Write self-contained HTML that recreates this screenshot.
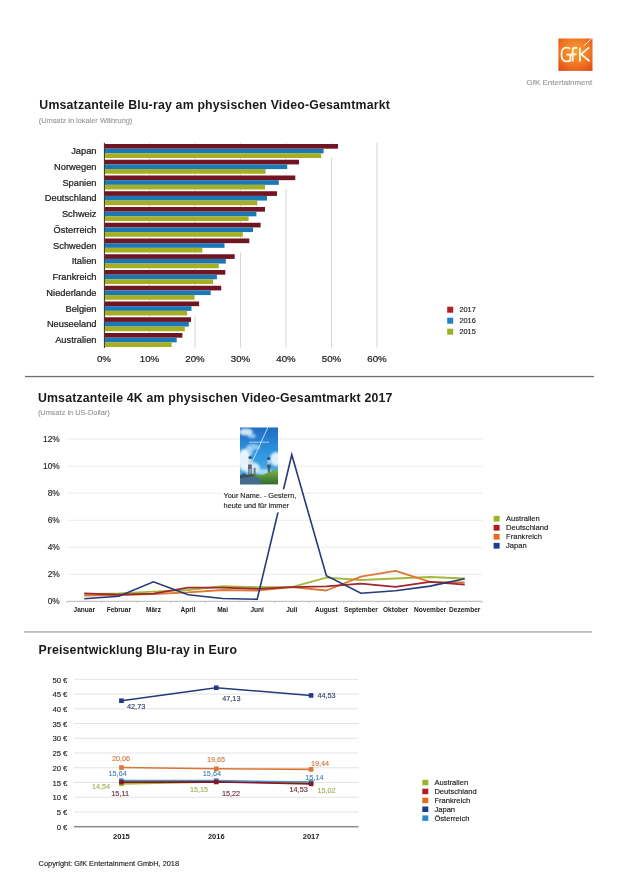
<!DOCTYPE html>
<html><head><meta charset="utf-8"><style>
html,body{margin:0;padding:0;background:#fff;width:630px;height:891px;overflow:hidden;}
svg{display:block;font-family:"Liberation Sans", sans-serif;will-change:transform;}
</style></head><body>
<svg width="630" height="891" viewBox="0 0 630 891">
<rect x="149.00" y="143" width="1" height="204.5" fill="#d4d4d4"/>
<rect x="194.50" y="143" width="1" height="204.5" fill="#d4d4d4"/>
<rect x="240.00" y="143" width="1" height="204.5" fill="#d4d4d4"/>
<rect x="285.50" y="143" width="1" height="204.5" fill="#d4d4d4"/>
<rect x="331.00" y="143" width="1" height="204.5" fill="#d4d4d4"/>
<rect x="376.50" y="143" width="1" height="204.5" fill="#d4d4d4"/>
<rect x="104.0" y="144.00" width="234.00" height="14" fill="#fff"/>
<rect x="104.4" y="144.00" width="233.60" height="4.67" fill="#701521"/>
<rect x="104.4" y="148.67" width="219.20" height="4.67" fill="#1b78b6"/>
<rect x="104.4" y="153.33" width="216.80" height="4.67" fill="#a6ae22"/>
<text stroke="#1a1a1a" stroke-width="0.22" x="96.5" y="154.00" text-anchor="end" font-size="9.3" fill="#1a1a1a">Japan</text>
<rect x="104.0" y="159.75" width="195.00" height="14" fill="#fff"/>
<rect x="104.4" y="159.75" width="194.60" height="4.67" fill="#701521"/>
<rect x="104.4" y="164.42" width="182.80" height="4.67" fill="#1b78b6"/>
<rect x="104.4" y="169.08" width="161.20" height="4.67" fill="#a6ae22"/>
<text stroke="#1a1a1a" stroke-width="0.22" x="96.5" y="169.75" text-anchor="end" font-size="9.3" fill="#1a1a1a">Norwegen</text>
<rect x="104.0" y="175.50" width="191.30" height="14" fill="#fff"/>
<rect x="104.4" y="175.50" width="190.90" height="4.67" fill="#701521"/>
<rect x="104.4" y="180.17" width="174.40" height="4.67" fill="#1b78b6"/>
<rect x="104.4" y="184.83" width="160.60" height="4.67" fill="#a6ae22"/>
<text stroke="#1a1a1a" stroke-width="0.22" x="96.5" y="185.50" text-anchor="end" font-size="9.3" fill="#1a1a1a">Spanien</text>
<rect x="104.0" y="191.25" width="173.00" height="14" fill="#fff"/>
<rect x="104.4" y="191.25" width="172.60" height="4.67" fill="#701521"/>
<rect x="104.4" y="195.92" width="162.60" height="4.67" fill="#1b78b6"/>
<rect x="104.4" y="200.58" width="152.90" height="4.67" fill="#a6ae22"/>
<text stroke="#1a1a1a" stroke-width="0.22" x="96.5" y="201.25" text-anchor="end" font-size="9.3" fill="#1a1a1a">Deutschland</text>
<rect x="104.0" y="207.00" width="161.00" height="14" fill="#fff"/>
<rect x="104.4" y="207.00" width="160.60" height="4.67" fill="#701521"/>
<rect x="104.4" y="211.67" width="152.00" height="4.67" fill="#1b78b6"/>
<rect x="104.4" y="216.33" width="144.20" height="4.67" fill="#a6ae22"/>
<text stroke="#1a1a1a" stroke-width="0.22" x="96.5" y="217.00" text-anchor="end" font-size="9.3" fill="#1a1a1a">Schweiz</text>
<rect x="104.0" y="222.75" width="156.60" height="14" fill="#fff"/>
<rect x="104.4" y="222.75" width="156.20" height="4.67" fill="#701521"/>
<rect x="104.4" y="227.42" width="148.60" height="4.67" fill="#1b78b6"/>
<rect x="104.4" y="232.08" width="138.40" height="4.67" fill="#a6ae22"/>
<text stroke="#1a1a1a" stroke-width="0.22" x="96.5" y="232.75" text-anchor="end" font-size="9.3" fill="#1a1a1a">Österreich</text>
<rect x="104.0" y="238.50" width="145.30" height="14" fill="#fff"/>
<rect x="104.4" y="238.50" width="144.90" height="4.67" fill="#701521"/>
<rect x="104.4" y="243.17" width="120.10" height="4.67" fill="#1b78b6"/>
<rect x="104.4" y="247.83" width="97.90" height="4.67" fill="#a6ae22"/>
<text stroke="#1a1a1a" stroke-width="0.22" x="96.5" y="248.50" text-anchor="end" font-size="9.3" fill="#1a1a1a">Schweden</text>
<rect x="104.0" y="254.25" width="130.70" height="14" fill="#fff"/>
<rect x="104.4" y="254.25" width="130.30" height="4.67" fill="#701521"/>
<rect x="104.4" y="258.92" width="121.40" height="4.67" fill="#1b78b6"/>
<rect x="104.4" y="263.58" width="114.40" height="4.67" fill="#a6ae22"/>
<text stroke="#1a1a1a" stroke-width="0.22" x="96.5" y="264.25" text-anchor="end" font-size="9.3" fill="#1a1a1a">Italien</text>
<rect x="104.0" y="270.00" width="121.30" height="14" fill="#fff"/>
<rect x="104.4" y="270.00" width="120.90" height="4.67" fill="#701521"/>
<rect x="104.4" y="274.67" width="112.50" height="4.67" fill="#1b78b6"/>
<rect x="104.4" y="279.33" width="108.70" height="4.67" fill="#a6ae22"/>
<text stroke="#1a1a1a" stroke-width="0.22" x="96.5" y="280.00" text-anchor="end" font-size="9.3" fill="#1a1a1a">Frankreich</text>
<rect x="104.0" y="285.75" width="117.20" height="14" fill="#fff"/>
<rect x="104.4" y="285.75" width="116.80" height="4.67" fill="#701521"/>
<rect x="104.4" y="290.42" width="106.30" height="4.67" fill="#1b78b6"/>
<rect x="104.4" y="295.08" width="90.10" height="4.67" fill="#a6ae22"/>
<text stroke="#1a1a1a" stroke-width="0.22" x="96.5" y="295.75" text-anchor="end" font-size="9.3" fill="#1a1a1a">Niederlande</text>
<rect x="104.0" y="301.50" width="95.10" height="14" fill="#fff"/>
<rect x="104.4" y="301.50" width="94.70" height="4.67" fill="#701521"/>
<rect x="104.4" y="306.17" width="87.10" height="4.67" fill="#1b78b6"/>
<rect x="104.4" y="310.83" width="82.80" height="4.67" fill="#a6ae22"/>
<text stroke="#1a1a1a" stroke-width="0.22" x="96.5" y="311.50" text-anchor="end" font-size="9.3" fill="#1a1a1a">Belgien</text>
<rect x="104.0" y="317.25" width="87.00" height="14" fill="#fff"/>
<rect x="104.4" y="317.25" width="86.60" height="4.67" fill="#701521"/>
<rect x="104.4" y="321.92" width="84.40" height="4.67" fill="#1b78b6"/>
<rect x="104.4" y="326.58" width="80.40" height="4.67" fill="#a6ae22"/>
<text stroke="#1a1a1a" stroke-width="0.22" x="96.5" y="327.25" text-anchor="end" font-size="9.3" fill="#1a1a1a">Neuseeland</text>
<rect x="104.0" y="333.00" width="78.40" height="14" fill="#fff"/>
<rect x="104.4" y="333.00" width="78.00" height="4.67" fill="#701521"/>
<rect x="104.4" y="337.67" width="72.30" height="4.67" fill="#1b78b6"/>
<rect x="104.4" y="342.33" width="67.20" height="4.67" fill="#a6ae22"/>
<text stroke="#1a1a1a" stroke-width="0.22" x="96.5" y="343.00" text-anchor="end" font-size="9.3" fill="#1a1a1a">Australien</text>
<rect x="103.9" y="142.8" width="1" height="205.2" fill="#333"/>
<text stroke="#1a1a1a" stroke-width="0.22" x="104.00" y="362.1" text-anchor="middle" font-size="9.7" fill="#1a1a1a">0%</text>
<text stroke="#1a1a1a" stroke-width="0.22" x="149.50" y="362.1" text-anchor="middle" font-size="9.7" fill="#1a1a1a">10%</text>
<text stroke="#1a1a1a" stroke-width="0.22" x="195.00" y="362.1" text-anchor="middle" font-size="9.7" fill="#1a1a1a">20%</text>
<text stroke="#1a1a1a" stroke-width="0.22" x="240.50" y="362.1" text-anchor="middle" font-size="9.7" fill="#1a1a1a">30%</text>
<text stroke="#1a1a1a" stroke-width="0.22" x="286.00" y="362.1" text-anchor="middle" font-size="9.7" fill="#1a1a1a">40%</text>
<text stroke="#1a1a1a" stroke-width="0.22" x="331.50" y="362.1" text-anchor="middle" font-size="9.7" fill="#1a1a1a">50%</text>
<text stroke="#1a1a1a" stroke-width="0.22" x="377.00" y="362.1" text-anchor="middle" font-size="9.7" fill="#1a1a1a">60%</text>
<rect x="447.2" y="306.70" width="6" height="6" fill="#b3202a"/>
<text stroke="#222" stroke-width="0.14" x="459.4" y="312.40" font-size="7.4" fill="#222">2017</text>
<rect x="447.2" y="317.70" width="6" height="6" fill="#1f80c4"/>
<text stroke="#222" stroke-width="0.14" x="459.4" y="323.40" font-size="7.4" fill="#222">2016</text>
<rect x="447.2" y="328.70" width="6" height="6" fill="#9cb020"/>
<text stroke="#222" stroke-width="0.14" x="459.4" y="334.40" font-size="7.4" fill="#222">2015</text>
<rect x="67.5" y="573.86" width="415" height="1" fill="#ebebeb"/>
<text stroke="#222" stroke-width="0.14" x="59.8" y="576.86" text-anchor="end" font-size="8.4" fill="#222">2%</text>
<rect x="67.5" y="546.82" width="415" height="1" fill="#ebebeb"/>
<text stroke="#222" stroke-width="0.14" x="59.8" y="549.82" text-anchor="end" font-size="8.4" fill="#222">4%</text>
<rect x="67.5" y="519.78" width="415" height="1" fill="#ebebeb"/>
<text stroke="#222" stroke-width="0.14" x="59.8" y="522.78" text-anchor="end" font-size="8.4" fill="#222">6%</text>
<rect x="67.5" y="492.74" width="415" height="1" fill="#ebebeb"/>
<text stroke="#222" stroke-width="0.14" x="59.8" y="495.74" text-anchor="end" font-size="8.4" fill="#222">8%</text>
<rect x="67.5" y="465.70" width="415" height="1" fill="#ebebeb"/>
<text stroke="#222" stroke-width="0.14" x="59.8" y="468.70" text-anchor="end" font-size="8.4" fill="#222">10%</text>
<rect x="67.5" y="438.66" width="415" height="1" fill="#ebebeb"/>
<text stroke="#222" stroke-width="0.14" x="59.8" y="441.66" text-anchor="end" font-size="8.4" fill="#222">12%</text>
<text stroke="#222" stroke-width="0.14" x="59.8" y="603.90" text-anchor="end" font-size="8.4" fill="#222">0%</text>
<rect x="67" y="600.80" width="415" height="1" fill="#b4b4b4"/>
<rect x="66.50" y="601.40" width="1" height="1.6" fill="#c4c4c4"/>
<rect x="101.08" y="601.40" width="1" height="1.6" fill="#c4c4c4"/>
<rect x="135.67" y="601.40" width="1" height="1.6" fill="#c4c4c4"/>
<rect x="170.25" y="601.40" width="1" height="1.6" fill="#c4c4c4"/>
<rect x="204.83" y="601.40" width="1" height="1.6" fill="#c4c4c4"/>
<rect x="239.42" y="601.40" width="1" height="1.6" fill="#c4c4c4"/>
<rect x="274.00" y="601.40" width="1" height="1.6" fill="#c4c4c4"/>
<rect x="308.58" y="601.40" width="1" height="1.6" fill="#c4c4c4"/>
<rect x="343.17" y="601.40" width="1" height="1.6" fill="#c4c4c4"/>
<rect x="377.75" y="601.40" width="1" height="1.6" fill="#c4c4c4"/>
<rect x="412.33" y="601.40" width="1" height="1.6" fill="#c4c4c4"/>
<rect x="446.92" y="601.40" width="1" height="1.6" fill="#c4c4c4"/>
<rect x="481.50" y="601.40" width="1" height="1.6" fill="#c4c4c4"/>
<text x="84.29" y="611.60" text-anchor="middle" font-size="6.55" font-weight="bold" fill="#1a1a1a">Januar</text>
<text x="118.88" y="611.60" text-anchor="middle" font-size="6.55" font-weight="bold" fill="#1a1a1a">Februar</text>
<text x="153.46" y="611.60" text-anchor="middle" font-size="6.55" font-weight="bold" fill="#1a1a1a">März</text>
<text x="188.04" y="611.60" text-anchor="middle" font-size="6.55" font-weight="bold" fill="#1a1a1a">April</text>
<text x="222.62" y="611.60" text-anchor="middle" font-size="6.55" font-weight="bold" fill="#1a1a1a">Mai</text>
<text x="257.21" y="611.60" text-anchor="middle" font-size="6.55" font-weight="bold" fill="#1a1a1a">Juni</text>
<text x="291.79" y="611.60" text-anchor="middle" font-size="6.55" font-weight="bold" fill="#1a1a1a">Juli</text>
<text x="326.38" y="611.60" text-anchor="middle" font-size="6.55" font-weight="bold" fill="#1a1a1a">August</text>
<text x="360.96" y="611.60" text-anchor="middle" font-size="6.55" font-weight="bold" fill="#1a1a1a">September</text>
<text x="395.54" y="611.60" text-anchor="middle" font-size="6.55" font-weight="bold" fill="#1a1a1a">Oktober</text>
<text x="430.12" y="611.60" text-anchor="middle" font-size="6.55" font-weight="bold" fill="#1a1a1a">November</text>
<text x="464.71" y="611.60" text-anchor="middle" font-size="6.55" font-weight="bold" fill="#1a1a1a">Dezember</text>
<polyline points="84.29,594.20 118.88,593.30 153.46,591.60 188.04,590.00 222.62,586.10 257.21,587.20 291.79,587.20 326.38,577.70 360.96,580.00 395.54,578.50 430.12,577.00 464.71,578.50" fill="none" stroke="#a4b83a" stroke-width="1.8" stroke-linejoin="round"/>
<polyline points="84.29,595.70 118.88,595.00 153.46,594.00 188.04,592.40 222.62,590.00 257.21,590.70 291.79,587.20 326.38,590.50 360.96,576.70 395.54,570.90 430.12,581.80 464.71,582.50" fill="none" stroke="#dc7834" stroke-width="1.8" stroke-linejoin="round"/>
<polyline points="84.29,593.30 118.88,594.70 153.46,593.70 188.04,587.70 222.62,587.70 257.21,588.80 291.79,587.20 326.38,586.40 360.96,583.60 395.54,586.90 430.12,581.80 464.71,584.60" fill="none" stroke="#9e2830" stroke-width="1.8" stroke-linejoin="round"/>
<polyline points="84.29,598.80 118.88,596.30 153.46,581.80 188.04,594.80 222.62,598.50 257.21,599.20 291.79,454.70 326.38,575.80 360.96,593.20 395.54,590.70 430.12,586.10 464.71,578.70" fill="none" stroke="#26397a" stroke-width="1.6" stroke-linejoin="miter"/>
<rect x="221" y="489.4" width="78" height="23" fill="#fff"/>
<text stroke="#222" stroke-width="0.14" x="223.6" y="498" font-size="7.3" fill="#222">Your Name. - Gestern,</text>
<text stroke="#222" stroke-width="0.14" x="223.6" y="507.5" font-size="7.3" fill="#222">heute und für immer</text>
<rect x="493.6" y="515.90" width="6" height="5.7" fill="#9cb428"/>
<text stroke="#161616" stroke-width="0.14" x="506" y="521.20" font-size="7.6" fill="#161616">Australien</text>
<rect x="493.6" y="524.90" width="6" height="5.7" fill="#b01c22"/>
<text stroke="#161616" stroke-width="0.14" x="506" y="530.20" font-size="7.6" fill="#161616">Deutschland</text>
<rect x="493.6" y="533.90" width="6" height="5.7" fill="#e86a1c"/>
<text stroke="#161616" stroke-width="0.14" x="506" y="539.20" font-size="7.6" fill="#161616">Frankreich</text>
<rect x="493.6" y="542.90" width="6" height="5.7" fill="#1c3c8c"/>
<text stroke="#161616" stroke-width="0.14" x="506" y="548.20" font-size="7.6" fill="#161616">Japan</text>
<rect x="74" y="811.46" width="284.5" height="1" fill="#e3e3e3"/>
<rect x="74" y="796.72" width="284.5" height="1" fill="#e3e3e3"/>
<rect x="74" y="781.98" width="284.5" height="1" fill="#e3e3e3"/>
<rect x="74" y="767.24" width="284.5" height="1" fill="#e3e3e3"/>
<rect x="74" y="752.50" width="284.5" height="1" fill="#e3e3e3"/>
<rect x="74" y="737.76" width="284.5" height="1" fill="#e3e3e3"/>
<rect x="74" y="723.02" width="284.5" height="1" fill="#e3e3e3"/>
<rect x="74" y="708.28" width="284.5" height="1" fill="#e3e3e3"/>
<rect x="74" y="693.54" width="284.5" height="1" fill="#e3e3e3"/>
<rect x="74" y="678.80" width="284.5" height="1" fill="#e3e3e3"/>
<text stroke="#222" stroke-width="0.14" x="67.4" y="829.90" text-anchor="end" font-size="7.7" fill="#222">0 €</text>
<text stroke="#222" stroke-width="0.14" x="67.4" y="815.16" text-anchor="end" font-size="7.7" fill="#222">5 €</text>
<text stroke="#222" stroke-width="0.14" x="67.4" y="800.42" text-anchor="end" font-size="7.7" fill="#222">10 €</text>
<text stroke="#222" stroke-width="0.14" x="67.4" y="785.68" text-anchor="end" font-size="7.7" fill="#222">15 €</text>
<text stroke="#222" stroke-width="0.14" x="67.4" y="770.94" text-anchor="end" font-size="7.7" fill="#222">20 €</text>
<text stroke="#222" stroke-width="0.14" x="67.4" y="756.20" text-anchor="end" font-size="7.7" fill="#222">25 €</text>
<text stroke="#222" stroke-width="0.14" x="67.4" y="741.46" text-anchor="end" font-size="7.7" fill="#222">30 €</text>
<text stroke="#222" stroke-width="0.14" x="67.4" y="726.72" text-anchor="end" font-size="7.7" fill="#222">35 €</text>
<text stroke="#222" stroke-width="0.14" x="67.4" y="711.98" text-anchor="end" font-size="7.7" fill="#222">40 €</text>
<text stroke="#222" stroke-width="0.14" x="67.4" y="697.24" text-anchor="end" font-size="7.7" fill="#222">45 €</text>
<text stroke="#222" stroke-width="0.14" x="67.4" y="682.50" text-anchor="end" font-size="7.7" fill="#222">50 €</text>
<rect x="74" y="825.90" width="284.5" height="1.6" fill="#909090"/>
<text x="121.42" y="839.00" text-anchor="middle" font-size="7.5" font-weight="bold" fill="#222">2015</text>
<text x="216.25" y="839.00" text-anchor="middle" font-size="7.5" font-weight="bold" fill="#222">2016</text>
<text x="311.08" y="839.00" text-anchor="middle" font-size="7.5" font-weight="bold" fill="#222">2017</text>
<polyline points="121.42,700.73 216.25,687.76 311.08,695.43" fill="none" stroke="#26397a" stroke-width="1.6"/>
<rect x="119.12" y="698.43" width="4.6" height="4.6" fill="#26397a"/>
<rect x="213.95" y="685.46" width="4.6" height="4.6" fill="#26397a"/>
<rect x="308.78" y="693.13" width="4.6" height="4.6" fill="#26397a"/>
<polyline points="121.42,767.56 216.25,768.77 311.08,769.39" fill="none" stroke="#da763a" stroke-width="1.6"/>
<rect x="119.12" y="765.26" width="4.6" height="4.6" fill="#da763a"/>
<rect x="213.95" y="766.47" width="4.6" height="4.6" fill="#da763a"/>
<rect x="308.78" y="767.09" width="4.6" height="4.6" fill="#da763a"/>
<polyline points="121.42,783.84 216.25,782.04 311.08,782.42" fill="none" stroke="#a8b82a" stroke-width="1.6"/>
<rect x="119.12" y="781.54" width="4.6" height="4.6" fill="#a8b82a"/>
<rect x="213.95" y="779.74" width="4.6" height="4.6" fill="#a8b82a"/>
<rect x="308.78" y="780.12" width="4.6" height="4.6" fill="#a8b82a"/>
<polyline points="121.42,780.59 216.25,780.59 311.08,782.07" fill="none" stroke="#4a94c8" stroke-width="1.6"/>
<rect x="119.12" y="778.29" width="4.6" height="4.6" fill="#4a94c8"/>
<rect x="213.95" y="778.29" width="4.6" height="4.6" fill="#4a94c8"/>
<rect x="308.78" y="779.77" width="4.6" height="4.6" fill="#4a94c8"/>
<polyline points="121.42,782.16 216.25,781.83 311.08,783.87" fill="none" stroke="#86182a" stroke-width="1.6"/>
<rect x="119.12" y="779.86" width="4.6" height="4.6" fill="#86182a"/>
<rect x="213.95" y="779.53" width="4.6" height="4.6" fill="#86182a"/>
<rect x="308.78" y="781.57" width="4.6" height="4.6" fill="#86182a"/>
<text stroke="#34426e" stroke-width="0.14" x="127.00" y="708.95" font-size="7.3" fill="#34426e">42,73</text>
<text stroke="#34426e" stroke-width="0.14" x="222.20" y="700.65" font-size="7.3" fill="#34426e">47,13</text>
<text stroke="#34426e" stroke-width="0.14" x="317.40" y="698.35" font-size="7.3" fill="#34426e">44,53</text>
<text stroke="#d07a40" stroke-width="0.14" x="111.90" y="761.25" font-size="7.3" fill="#d07a40">20,06</text>
<text stroke="#d07a40" stroke-width="0.14" x="206.90" y="762.05" font-size="7.3" fill="#d07a40">19,65</text>
<text stroke="#d07a40" stroke-width="0.14" x="310.90" y="765.95" font-size="7.3" fill="#d07a40">19,44</text>
<text stroke="#4a84b8" stroke-width="0.14" x="108.50" y="775.95" font-size="7.3" fill="#4a84b8">15,64</text>
<text stroke="#4a84b8" stroke-width="0.14" x="202.80" y="775.95" font-size="7.3" fill="#4a84b8">15,64</text>
<text stroke="#4a84b8" stroke-width="0.14" x="305.30" y="780.35" font-size="7.3" fill="#4a84b8">15,14</text>
<text stroke="#a8b058" stroke-width="0.14" x="91.90" y="789.25" font-size="7.3" fill="#a8b058">14,54</text>
<text stroke="#a8b058" stroke-width="0.14" x="189.90" y="792.05" font-size="7.3" fill="#a8b058">15,15</text>
<text stroke="#a8b058" stroke-width="0.14" x="317.40" y="793.25" font-size="7.3" fill="#a8b058">15,02</text>
<text stroke="#6e2a3a" stroke-width="0.14" x="111.30" y="796.05" font-size="7.3" fill="#6e2a3a">15,11</text>
<text stroke="#6e2a3a" stroke-width="0.14" x="221.90" y="795.55" font-size="7.3" fill="#6e2a3a">15,22</text>
<text stroke="#6e2a3a" stroke-width="0.14" x="289.50" y="792.45" font-size="7.3" fill="#6e2a3a">14,53</text>
<rect x="422.3" y="779.80" width="6" height="5.5" fill="#9cb428"/>
<text stroke="#161616" stroke-width="0.14" x="434.4" y="785.10" font-size="7.6" fill="#161616">Australien</text>
<rect x="422.3" y="788.70" width="6" height="5.5" fill="#b01c22"/>
<text stroke="#161616" stroke-width="0.14" x="434.4" y="794.00" font-size="7.6" fill="#161616">Deutschland</text>
<rect x="422.3" y="797.60" width="6" height="5.5" fill="#e86a1c"/>
<text stroke="#161616" stroke-width="0.14" x="434.4" y="802.90" font-size="7.6" fill="#161616">Frankreich</text>
<rect x="422.3" y="806.50" width="6" height="5.5" fill="#1c3c8c"/>
<text stroke="#161616" stroke-width="0.14" x="434.4" y="811.80" font-size="7.6" fill="#161616">Japan</text>
<rect x="422.3" y="815.40" width="6" height="5.5" fill="#2a8ad0"/>
<text stroke="#161616" stroke-width="0.14" x="434.4" y="820.70" font-size="7.6" fill="#161616">Österreich</text>
<text x="39.3" y="108.9" font-size="12.3" font-weight="bold" fill="#1a1a1a" textLength="350.5" lengthAdjust="spacing">Umsatzanteile Blu-ray am physischen Video-Gesamtmarkt</text>
<text stroke="#999" stroke-width="0.14" x="38.7" y="123.1" font-size="7.4" fill="#999">(Umsatz in lokaler Währung)</text>
<rect x="25" y="375.9" width="569" height="1.3" fill="#707070"/>
<text x="37.9" y="401.7" font-size="12.3" font-weight="bold" fill="#1a1a1a" textLength="354.5" lengthAdjust="spacing">Umsatzanteile 4K am physischen Video-Gesamtmarkt 2017</text>
<text stroke="#999" stroke-width="0.14" x="37.9" y="415.1" font-size="7.4" fill="#999">(Umsatz in US-Dollar)</text>
<rect x="24" y="631.3" width="568" height="1.3" fill="#a4a4a4"/>
<text x="38.6" y="653.9" font-size="12.3" font-weight="bold" fill="#1a1a1a" textLength="198.5" lengthAdjust="spacing">Preisentwicklung Blu-ray in Euro</text>
<text stroke="#222" stroke-width="0.14" x="38.6" y="865.7" font-size="7.4" fill="#222">Copyright: GfK Entertainment GmbH, 2018</text>
<defs><linearGradient id="lg" x1="0" y1="0" x2="1" y2="1">
<stop offset="0" stop-color="#f08a30"/><stop offset="0.55" stop-color="#ea6420"/><stop offset="1" stop-color="#e04a18"/></linearGradient>
<linearGradient id="sky" x1="0" y1="0" x2="0" y2="1"><stop offset="0" stop-color="#1e64b4"/><stop offset="0.5" stop-color="#3ea0e0"/><stop offset="1" stop-color="#8ccaf0"/></linearGradient></defs>
<defs><radialGradient id="lgr" cx="0.5" cy="0.4" r="0.75"><stop offset="0" stop-color="#f7a032"/><stop offset="0.6" stop-color="#ee7424"/><stop offset="1" stop-color="#e2461a"/></radialGradient></defs>
<rect x="558.4" y="38.5" width="34.1" height="32.4" fill="url(#lgr)"/>
<g fill="none" stroke="#fff6e2" stroke-width="1.85" stroke-linecap="butt"><path d="M570.2 48.6 Q568.5 47.6 566.4 47.6 Q561.5 47.6 561.5 54.5 Q561.5 61.4 566.4 61.4 Q568.6 61.4 570.3 60.6 L570.3 54.6 L566.2 54.6"/><path d="M577.2 48.2 Q576.2 47.7 575.2 47.7 Q572.7 47.7 572.7 50.5 L572.7 61.5"/><path d="M571.0 54.4 L576.4 54.4"/><path d="M579.9 47.6 L579.9 61.5"/><path d="M589.6 61.3 L581.2 54.2"/></g>
<path d="M580.6 54.6 L589.2 47.4" stroke="#fff6e2" stroke-width="1.85" fill="none"/><path d="M583.6 46.0 L591.6 38.6" stroke="#fff2dc" stroke-width="1.0" fill="none"/>
<text stroke="#999" stroke-width="0.14" x="526.6" y="85.3" font-size="7.9" fill="#999" textLength="65.6" lengthAdjust="spacingAndGlyphs">GfK Entertainment</text>
<defs><filter id="bl" x="-20%" y="-20%" width="140%" height="140%"><feGaussianBlur stdDeviation="0.9"/></filter><filter id="bl2" x="-20%" y="-20%" width="140%" height="140%"><feGaussianBlur stdDeviation="0.45"/></filter><filter id="bl3" x="-30%" y="-30%" width="160%" height="160%"><feGaussianBlur stdDeviation="0.6"/></filter><clipPath id="pc"><rect x="240" y="427.3" width="38" height="57.3"/></clipPath><linearGradient id="sky2" x1="0" y1="0" x2="0" y2="1"><stop offset="0" stop-color="#1f6cc4"/><stop offset="0.45" stop-color="#2f96de"/><stop offset="1" stop-color="#5cb8ea"/></linearGradient><linearGradient id="grs" x1="0" y1="0" x2="0" y2="1"><stop offset="0" stop-color="#7cb848"/><stop offset="1" stop-color="#2e6a2a"/></linearGradient></defs>
<g clip-path="url(#pc)">
<rect x="240" y="427.3" width="38" height="57.3" fill="url(#sky2)"/>
<g filter="url(#bl)" fill="#eef8ff"><ellipse cx="246" cy="432" rx="7" ry="3.5" opacity="0.85"/><ellipse cx="252" cy="436" rx="4" ry="2" opacity="0.6"/><ellipse cx="253" cy="447" rx="7" ry="3" opacity="0.55"/><ellipse cx="244" cy="460" rx="6" ry="11" opacity="0.95"/><ellipse cx="252" cy="468" rx="8" ry="6" opacity="0.8"/><ellipse cx="248" cy="452" rx="5" ry="4" opacity="0.6"/><ellipse cx="276" cy="459" rx="6" ry="7" opacity="0.9"/><ellipse cx="264" cy="472" rx="8" ry="3" opacity="0.6"/></g>
<path d="M268 427 L252 462" stroke="#e6f6ff" stroke-width="0.9" opacity="0.85" filter="url(#bl2)"/>
<rect x="249" y="441.5" width="20" height="1.4" fill="#dff0ff" opacity="0.5" filter="url(#bl2)"/>
<g filter="url(#bl3)" opacity="0.7"><ellipse cx="250" cy="457.5" rx="1.6" ry="1.5" fill="#2a2a3a"/><rect x="248.2" y="459" width="3.6" height="6" fill="#d8dce8"/><rect x="248" y="464.5" width="3.8" height="4.5" fill="#303040"/><rect x="248.3" y="469" width="1.3" height="8" fill="#303040"/><rect x="250.5" y="469" width="1.3" height="8" fill="#303040"/><ellipse cx="268.8" cy="458.5" rx="1.6" ry="1.6" fill="#1a2a5a"/><rect x="267.4" y="460" width="3" height="5" fill="#c8d4ea"/><rect x="267.2" y="464.5" width="3.4" height="3.5" fill="#303848"/><rect x="267.8" y="468" width="2.2" height="5" fill="#404050"/><rect x="253.6" y="468" width="2" height="8" fill="#405068"/></g>
<path d="M240 484.6 L240 476 L252 474 L262 475 L278 469 L278 484.6 Z" fill="url(#grs)" filter="url(#bl2)"/>
<path d="M240 484.6 L240 476.5 L258 477 L262 484.6 Z" fill="#4a6a90" filter="url(#bl2)"/>
<path d="M240 475 L244 473 L247 475 L252 474 L256 476 L240 478 Z" fill="#303848" opacity="0.7" filter="url(#bl2)"/>
</g>
</svg></body></html>
